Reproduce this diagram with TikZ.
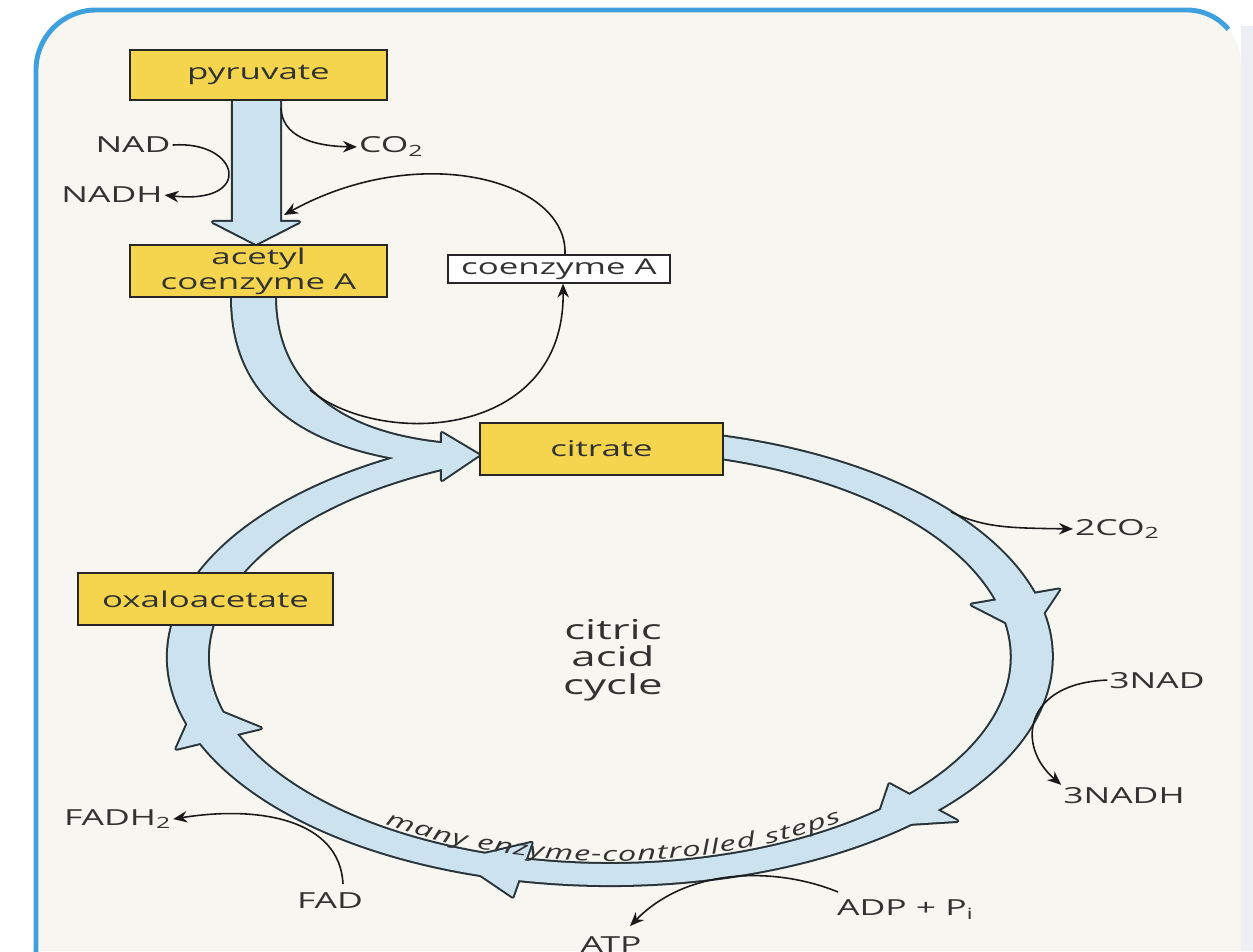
\documentclass[tikz,border=0pt]{standalone}
\usepackage{fontspec}
\setmainfont{Open Sans}[FakeStretch=1.6]
\usetikzlibrary{arrows.meta, calc, decorations.text}

\definecolor{ink}{RGB}{50,50,50}
\definecolor{boxyellow}{RGB}{245,213,78}
\definecolor{bandblue}{RGB}{204,226,239}
\definecolor{bandedge}{RGB}{40,52,58}
\definecolor{paper}{RGB}{247,246,240}
\definecolor{frame}{RGB}{62,160,220}
\definecolor{sidegrey}{RGB}{236,240,244}

\newcommand{\boxfont}{\fontsize{12.4}{14.2}\selectfont}
\newcommand{\lblfont}{\fontsize{12.6}{14.4}\selectfont}
\newcommand{\stepsfont}{\fontsize{11.6}{14}\selectfont\itshape}
\newcommand{\cyclefont}{\fontsize{15.6}{15.8}\selectfont}

% arrow head on the ring: style, back angle, tip angle
\newcommand{\ringhead}[3]{%
  \path[#1] ({381.25+292.25*cos(#2)},{294+245*sin(#2)}) -- ({381.25+263.75*cos(#3)},{294+217.5*sin(#3)}) -- ({381.25+235.25*cos(#2)},{294+190*sin(#2)}) -- cycle;}

% all the broad arrows, drawn twice (outline, then fill)
\newcommand{\bandshapes}[1]{%
  \path[#1] (233,858) -- (233,729) -- (213,729) -- (256,707) -- (299,729) -- (280,729) -- (280,858) -- cycle;
  \path[#1] (232,661) -- (232,654) .. controls (232,541) and (320,496) .. (450,486) -- (450,507) .. controls (310,519) and (275,591) .. (275,654) -- (275,661) -- cycle;
  \path[#1] (442,518) -- (479,496) -- (442,471) -- cycle;
  \begin{scope}[x=0.032cm]
    \path[#1] ({381.25+276.25*cos(78)},{294+228*sin(78)}) arc[start angle=78, end angle=-248.5, x radius=276.25, y radius=228] -- ({381.25+251.25*cos(-248.5)},{294+207*sin(-248.5)}) arc[start angle=-248.5, end angle=78, x radius=251.25, y radius=207] -- cycle;
    \ringhead{#1}{16}{6}
    \ringhead{#1}{-42}{-51}
    \ringhead{#1}{-102}{-111}
    \ringhead{#1}{-158}{-168}
  \end{scope}}

\begin{document}
\begin{tikzpicture}[x=0.02cm, y=0.02cm,
  chem/.style={draw=black!85, line width=1.1pt, fill=boxyellow, text=ink, font=\boxfont, inner sep=0pt, align=center},
  lbl/.style={text=ink, font=\lblfont, inner sep=1pt},
  rxn/.style={draw=black!90, line width=0.9pt, -{Stealth[length=2.8mm,width=2.3mm]}}]

\useasboundingbox (0,0) rectangle (1253,951);

% page
\fill[white] (0,0) rectangle (1253,951);
\fill[sidegrey] (1241,0) rectangle (1253,925);
\fill[paper] (36,0) -- (36,881) arc[start angle=180, end angle=90, radius=60] -- (1187,941) arc[start angle=90, end angle=0, radius=54] -- (1241,0) -- cycle;
\draw[frame, line width=2.8pt] (36,-5) -- (36,881) arc[start angle=180, end angle=90, radius=60] -- (1187,941) arc[start angle=90, end angle=40, radius=54];

% broad arrows
\bandshapes{draw=bandedge, line width=2.3pt, line join=round}
\bandshapes{fill=bandblue}

% boxes
\node[chem, minimum width=5.14cm, minimum height=1cm] (pyr) at (258.5,876) {pyruvate};
\node[chem, minimum width=5.14cm, minimum height=1.04cm] (acoa) at (258.5,680) {acetyl\\coenzyme A};
\node[chem, fill=white, line width=0.7pt, minimum width=4.44cm, minimum height=0.56cm] (coa) at (559,682) {coenzyme A};
\node[chem, minimum width=4.86cm, minimum height=1.04cm] (cit) at (601.5,502) {citrate};
\node[chem, minimum width=5.1cm, minimum height=1.04cm] (oxa) at (205.5,352) {oxaloacetate};

% labels
\node[lbl, anchor=base] (nad) at (133,798) {NAD};
\node[lbl, anchor=base] (nadh) at (112,748) {NADH};
\node[lbl, anchor=base west] (co2) at (357,798) {CO\textsubscript{2}};
\node[lbl, anchor=base west] (co2b) at (1073,416) {2CO\textsubscript{2}};
\node[lbl, anchor=base] (nad3) at (1157,263) {3NAD};
\node[lbl, anchor=base] (nadh3) at (1124,148) {3NADH};
\node[lbl, anchor=base west] (fadh2) at (62,126) {FADH\textsubscript{2}};
\node[lbl, anchor=base] (fad) at (330,43) {FAD};
\node[lbl, anchor=base] (atp) at (611,-1) {ATP};
\node[lbl, anchor=base west] (adp) at (835,36) {ADP + P\textsubscript{i}};
\node[lbl, font=\cyclefont, align=center] (cyc) at (613,291) {citric\\acid\\cycle};

% side reactions
\coordinate (shaftco2) at (281,843);
\coordinate (shaftcoa) at (284,736);
\coordinate (bandcoa) at (310,561);
\coordinate (ringco2) at (951,439);

\draw[rxn] (nad.east) .. controls (240,811) and (255,746) .. (nadh.east);
\draw[rxn] (shaftco2) .. controls (282,816) and (310,805) .. (co2.west);
\draw[rxn] ([xshift=0.12cm]coa.north) .. controls (568,771) and (420,811) .. (shaftcoa);
\draw[rxn] (bandcoa) .. controls (380,503) and (565,511) .. ([xshift=0.08cm]coa.south);
\draw[rxn] (ringco2) .. controls (985,423) and (1010,423) .. (co2b.west);
\draw[rxn] (nad3.west) .. controls (1025,268) and (1015,206) .. (nadh3.north west);
\draw[rxn] ([shift={(0.26cm,0.12cm)}]fad.north) .. controls (340,131) and (260,146) .. (fadh2.east);
\draw[rxn] ([shift={(0.06cm,0.1cm)}]adp.north west) .. controls (780,83) and (690,86) .. ($(atp.north)+(19,8)$);

% text round the bottom of the ring
\begin{scope}[x=0.032cm]
  \path[decorate, decoration={text effects along path, text={many enzyme-controlled steps}, text align=center,
    text effects/.cd, text along path,
    character widths={font=\stepsfont, inner xsep=0.3pt},
    characters={font=\stepsfont, text=ink, inner xsep=0pt, inner ysep=0pt, anchor=base}}]
    ({381.25+246*cos(-137)},{294+204*sin(-137)}) arc[start angle=-137, end angle=-41.6, x radius=246, y radius=204];
\end{scope}

\end{tikzpicture}
\end{document}
